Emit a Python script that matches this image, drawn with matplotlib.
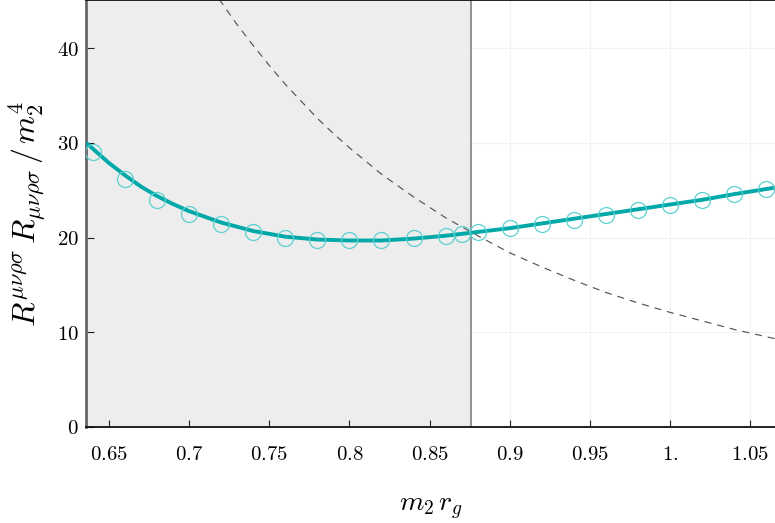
import matplotlib
matplotlib.use("Agg")
import matplotlib.pyplot as plt
import numpy as np

plt.rcParams['mathtext.fontset'] = 'cm'
plt.rcParams['font.family'] = ['DejaVu Serif']

# data points (markers)
pts_x = [0.64, 0.66, 0.68, 0.70, 0.72, 0.74, 0.76, 0.78, 0.80, 0.82, 0.84, 0.86, 0.87,
         0.88, 0.90, 0.92, 0.94, 0.96, 0.98, 1.00, 1.02, 1.04, 1.06]
pts_y = [29.0, 26.2, 24.0, 22.5, 21.4, 20.6, 20.0, 19.8, 19.7, 19.75, 19.95, 20.2, 20.35,
         20.6, 21.0, 21.4, 21.9, 22.4, 22.9, 23.4, 24.0, 24.6, 25.1]

# fitted curve (solid)
fit_x = [0.636, 0.64, 0.65, 0.66, 0.67, 0.68, 0.69, 0.70, 0.72, 0.74, 0.76, 0.78, 0.80, 0.82,
         0.84, 0.86, 0.88, 0.90, 0.92, 0.94, 0.96, 0.98, 1.00, 1.02, 1.04, 1.066]
fit_y = [30.0, 29.4, 27.9, 26.6, 25.4, 24.4, 23.55, 22.8, 21.6, 20.7, 20.1, 19.8, 19.7, 19.7,
         19.9, 20.2, 20.6, 21.0, 21.5, 22.0, 22.5, 23.0, 23.5, 24.0, 24.6, 25.3]

# dashed reference curve
dash_x = [0.712, 0.72, 0.73, 0.74, 0.75, 0.76, 0.77, 0.78, 0.79, 0.80, 0.82, 0.84, 0.86, 0.88,
          0.90, 0.92, 0.94, 0.96, 0.98, 1.00, 1.02, 1.04, 1.066]
dash_y = [47.0, 44.9, 42.5, 40.3, 38.2, 36.2, 34.4, 32.6, 31.0, 29.5, 26.7, 24.3, 22.1, 20.2,
          18.4, 16.9, 15.5, 14.2, 13.1, 12.1, 11.2, 10.3, 9.3]

shade_limit = 0.876
x_ticks = [0.65, 0.70, 0.75, 0.80, 0.85, 0.90, 0.95, 1.00, 1.05]
x_labels = ['0.65', '0.7', '0.75', '0.8', '0.85', '0.9', '0.95', '1.', '1.05']
y_ticks = [0, 10, 20, 30, 40]

fig = plt.figure(figsize=(7.75, 5.23), dpi=100)
ax = fig.add_axes([86/775, 96/523, 1 - 86/775, 427/523])
xmin, xmax = 0.6358, 1.0653
ymin, ymax = 0, 45.1
ax.set_xlim(xmin, xmax)
ax.set_ylim(ymin, ymax)

ax.axvspan(xmin, shade_limit, color='#ededed', zorder=0, lw=0)
ax.axvline(shade_limit, color='#8a8a8a', lw=1.3, zorder=1)

for xt in x_ticks:
    ax.axvline(xt, color='#f1f1f1', lw=0.8, zorder=0.5)
for yt in y_ticks[1:]:
    ax.axhline(yt, color='#f1f1f1', lw=0.8, zorder=0.5)

ax.plot(dash_x, dash_y, color='#555555', lw=0.85, ls=(0, (6, 5)), zorder=2)
ax.plot(fit_x, fit_y, color='#00a8a8', lw=2.8, zorder=3, solid_capstyle='butt')
ax.plot(pts_x, pts_y, ls='none', marker='o', ms=11.5, mfc='none', mec='#5dd0d0',
        mew=0.9, zorder=4)

ax.set_xticks(x_ticks)
ax.set_xticklabels(['$' + s + '$' for s in x_labels], fontsize=15)
ax.set_yticks(y_ticks)
ax.set_yticklabels(['$%d$' % v for v in y_ticks], fontsize=15)
ax.tick_params(axis='x', direction='in', length=5, width=0.8, color='#222222', pad=13)
ax.tick_params(axis='y', direction='in', length=6, width=0.8, color='#222222', pad=5)

for s in ['top', 'bottom']:
    ax.spines[s].set_color('#111111')
    ax.spines[s].set_linewidth(1.3)
ax.spines['left'].set_color('#666666')
ax.spines['left'].set_linewidth(2.0)
ax.spines['right'].set_visible(False)

ax.set_xlabel(r'$m_2\,r_g$', fontsize=20, labelpad=22)
ax.set_ylabel(r'$R^{\mu\nu\rho\sigma}\,R_{\mu\nu\rho\sigma}\,/\,m_2^4$', fontsize=23, labelpad=6)

fig.savefig('out.png', dpi=100)
